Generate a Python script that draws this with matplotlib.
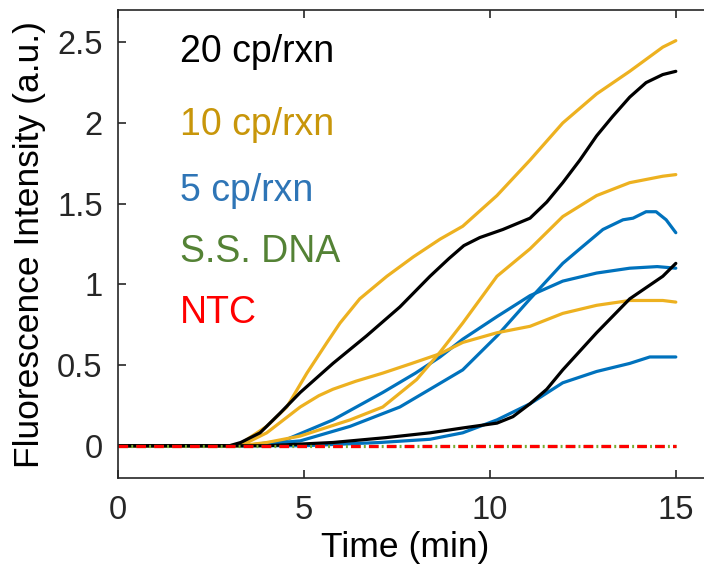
import matplotlib
matplotlib.use("Agg")
import matplotlib.pyplot as plt

plt.rcParams['font.family'] = ['Liberation Sans', 'DejaVu Sans']

# ---- data (time in min, fluorescence in a.u.) ----
t_gold_top = [0, 3.0, 3.28, 4.0, 4.54, 5.08, 5.62, 5.97, 6.5, 7.23, 7.94, 8.66, 9.27, 10.19, 11.08, 11.96, 12.87, 13.76, 14.65, 15.0]
v_gold_top = [0, 0.0, 0.01, 0.12, 0.24, 0.45, 0.64, 0.76, 0.91, 1.05, 1.17, 1.28, 1.36, 1.55, 1.77, 2.00, 2.18, 2.32, 2.47, 2.51]

t_black_top = [0, 3.0, 3.3, 3.82, 4.35, 4.9, 5.78, 6.68, 7.58, 8.39, 8.9, 9.3, 9.73, 10.35, 11.08, 11.53, 11.96, 12.42, 12.87, 13.3, 13.76, 14.2, 14.65, 15.0]
v_black_top = [0, 0.0, 0.02, 0.08, 0.20, 0.33, 0.51, 0.68, 0.86, 1.05, 1.16, 1.24, 1.29, 1.34, 1.41, 1.51, 1.63, 1.77, 1.92, 2.04, 2.16, 2.25, 2.30, 2.32]

t_gold_mid = [0, 3.3, 4.0, 4.9, 6.24, 7.12, 8.03, 8.66, 9.27, 10.19, 11.08, 11.96, 12.87, 13.76, 14.65, 15.0]
v_gold_mid = [0, 0.0, 0.02, 0.06, 0.16, 0.24, 0.41, 0.58, 0.76, 1.05, 1.22, 1.42, 1.55, 1.63, 1.67, 1.68]

t_gold_low = [0, 3.3, 4.0, 4.9, 5.4, 5.78, 6.4, 7.12, 7.9, 8.66, 9.27, 10.19, 11.08, 11.96, 12.87, 13.76, 14.65, 15.0]
v_gold_low = [0, 0.0, 0.08, 0.24, 0.31, 0.35, 0.40, 0.45, 0.51, 0.57, 0.64, 0.70, 0.74, 0.82, 0.87, 0.90, 0.90, 0.89]

t_blue_a = [0, 3.4, 4.44, 5.78, 7.12, 8.0, 8.66, 9.27, 10.19, 11.08, 11.96, 12.87, 13.76, 14.5, 15.0]
v_blue_a = [0, 0.0, 0.03, 0.16, 0.33, 0.45, 0.55, 0.66, 0.80, 0.93, 1.02, 1.07, 1.10, 1.11, 1.10]

t_blue_b = [0, 3.4, 4.9, 6.24, 7.58, 8.39, 9.27, 10.19, 11.08, 11.96, 12.42, 13.04, 13.58, 13.85, 14.2, 14.47, 14.74, 15.0]
v_blue_b = [0, 0.0, 0.03, 0.12, 0.24, 0.35, 0.47, 0.68, 0.91, 1.13, 1.22, 1.34, 1.40, 1.41, 1.45, 1.45, 1.40, 1.32]

t_black_b = [0, 4.0, 5.78, 7.2, 8.39, 9.27, 10.19, 10.62, 11.08, 11.53, 11.96, 12.87, 13.76, 14.65, 15.0]
v_black_b = [0, 0.0, 0.02, 0.05, 0.08, 0.11, 0.14, 0.18, 0.26, 0.35, 0.47, 0.70, 0.91, 1.05, 1.13]

t_blue_c = [0, 5.0, 7.04, 8.39, 9.27, 10.19, 11.08, 11.96, 12.87, 13.76, 14.3, 15.0]
v_blue_c = [0, 0.0, 0.02, 0.04, 0.08, 0.16, 0.26, 0.39, 0.46, 0.51, 0.55, 0.55]

t_base = [0, 15]
v_ssdna = [0, 0]
v_ntc = [0, 0]

labels = ["20 cp/rxn", "10 cp/rxn", "5 cp/rxn", "S.S. DNA", "NTC"]
label_y = [2.44, 1.99, 1.58, 1.20, 0.82]
label_colors = ["#000000", "#C8960A", "#2E75B6", "#548235", "#FF0000"]

xticks = [0, 5, 10, 15]
yticks = [0, 0.5, 1, 1.5, 2, 2.5]
ytick_labels = ["0", "0.5", "1", "1.5", "2", "2.5"]

GOLD = "#EDB120"
BLUE = "#0072BD"
LW = 2.3

fig = plt.figure(figsize=(7.04, 5.67), dpi=100)
ax = fig.add_axes([118/704, 1-478/567, (713-118)/704, (478-10)/567])

curve_kw = dict(lw=LW, solid_joinstyle='round', solid_capstyle='round')
ax.plot(t_blue_c, v_blue_c, color=BLUE, **curve_kw)
ax.plot(t_blue_a, v_blue_a, color=BLUE, **curve_kw)
ax.plot(t_blue_b, v_blue_b, color=BLUE, **curve_kw)
ax.plot(t_gold_low, v_gold_low, color=GOLD, **curve_kw)
ax.plot(t_gold_mid, v_gold_mid, color=GOLD, **curve_kw)
ax.plot(t_gold_top, v_gold_top, color=GOLD, **curve_kw)
ax.plot(t_black_b, v_black_b, color="black", **curve_kw)
ax.plot(t_black_top, v_black_top, color="black", **curve_kw)
ax.plot(t_base, v_ssdna, color="#77AC30", lw=LW, linestyle=(0, (3, 1.0, 0.6, 1.0)))
ax.plot(t_base, v_ntc, color="#FF0000", lw=LW, linestyle=(0, (3, 2.6)))

for lab, ly, lc in zip(labels, label_y, label_colors):
    ax.text(1.67, ly, lab, color=lc, fontsize=27, va='center', ha='left')

ax.set_xlim(0, 16)
ax.set_ylim(-0.2, 2.7)
ax.set_xticks(xticks)
ax.set_yticks(yticks)
ax.set_yticklabels(ytick_labels)
ax.tick_params(direction='in', length=6, width=1.2, colors='#262626',
               labelsize=23.5, top=True, right=True)
ax.tick_params(axis='x', pad=12)
ax.tick_params(axis='y', pad=11)
for s in ax.spines.values():
    s.set_color('#262626')
    s.set_linewidth(1.2)

ax.set_xlabel("Time (min)", fontsize=25.5)
ax.xaxis.set_label_coords(0.482, -0.113)
ax.set_ylabel("Fluorescence Intensity (a.u.)", fontsize=25.5, labelpad=8)

fig.savefig("out.png", dpi=100)
